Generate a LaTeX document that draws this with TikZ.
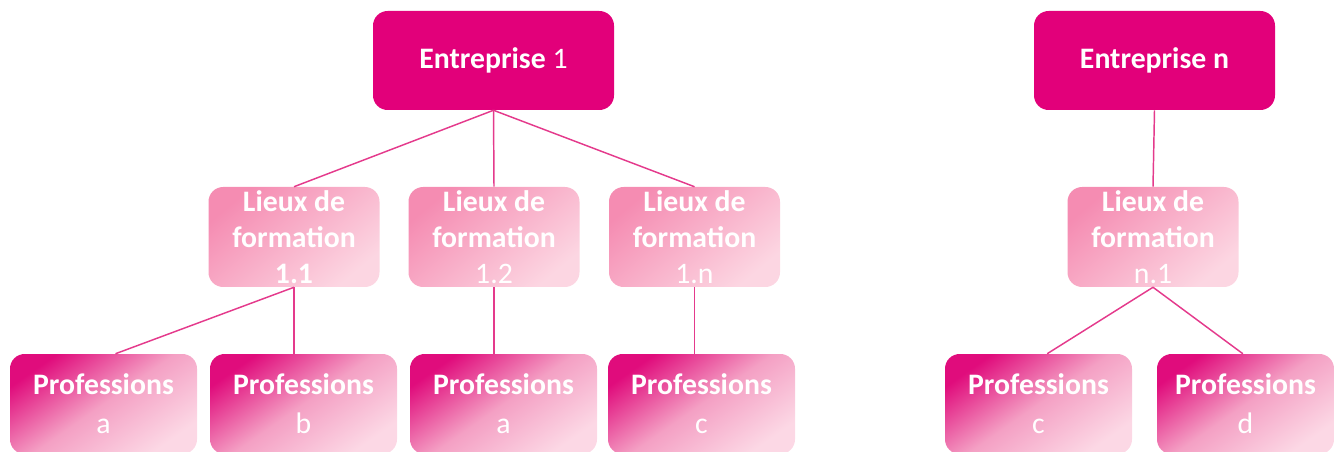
\documentclass[tikz,border=0pt]{standalone}
\usepackage{fontspec}
\setmainfont{Carlito}
\definecolor{entcol}{RGB}{226,0,122}
\definecolor{lieuxA}{RGB}{245,140,178}
\definecolor{lieuxB}{RGB}{252,214,226}
\definecolor{profA}{RGB}{224,12,124}
\definecolor{profM}{RGB}{244,160,196}
\definecolor{profB}{RGB}{252,216,229}
\definecolor{linkcol}{RGB}{228,58,140}
\begin{document}
\begin{tikzpicture}[x=0.75pt,y=-0.75pt,
  box/.style={rounded corners=11pt, inner sep=0pt, text=white, align=center,
    font=\fontsize{22.3}{27.2}\selectfont},
  entbox/.style={box, fill=entcol, minimum width=180.75pt, minimum height=74.25pt},
  lieuxbox/.style={box, top color=lieuxA, bottom color=lieuxB, shading angle=40,
    minimum width=128.25pt, minimum height=75pt},
  profbox/.style={box, top color=profA, bottom color=profB, middle color=profM,
    shading angle=35, minimum width=140.25pt, minimum height=75pt},
  link/.style={draw=linkcol, line width=1.1pt}]
\useasboundingbox (0,0) rectangle (1335,452);

% top level
\node[entbox] (e1) at (493.5,60.5) {\textbf{Entreprise} 1};
\node[entbox] (en) at (1154.5,60.5) {\textbf{Entreprise n}};

% training sites
\node[lieuxbox] (l11) at (294,237) {\textbf{Lieux de}\\\textbf{formation}\\\textbf{1.1}};
\node[lieuxbox] (l12) at (494,237) {\textbf{Lieux de}\\\textbf{formation}\\1.2};
\node[lieuxbox] (l1n) at (694.5,237) {\textbf{Lieux de}\\\textbf{formation}\\1.n};
\node[lieuxbox] (ln1) at (1153,237) {\textbf{Lieux de}\\\textbf{formation}\\n.1};

% professions
\node[profbox] (pa)  at (103.5,404) {\textbf{Professions}\\[2pt]a};
\node[profbox] (pb)  at (303.5,404) {\textbf{Professions}\\[2pt]b};
\node[profbox] (pa2) at (503.5,404) {\textbf{Professions}\\[2pt]a};
\node[profbox] (pc)  at (701.5,404) {\textbf{Professions}\\[2pt]c};
\node[profbox] (pc2) at (1038.5,404) {\textbf{Professions}\\[2pt]c};
\node[profbox, minimum width=132.75pt] (pd) at (1245.5,404) {\textbf{Professions}\\[2pt]d};

% connectors
\draw[link] (e1.south) -- (l11.north);
\draw[link] (e1.south) -- (l12.north);
\draw[link] (e1.south) -- (l1n.north);
\draw[link] (en.south) -- (ln1.north);
\draw[link] (l11.south) -- ([xshift=9pt]pa.north);
\draw[link] (l11.south) -- (l11.south |- pb.north);
\draw[link] (l12.south) -- (l12.south |- pa2.north);
\draw[link] (l1n.south) -- (l1n.south |- pc.north);
\draw[link] (ln1.south) -- ([xshift=6.5pt]pc2.north);
\draw[link] (ln1.south) -- ([xshift=-2pt]pd.north);
\end{tikzpicture}
\end{document}
